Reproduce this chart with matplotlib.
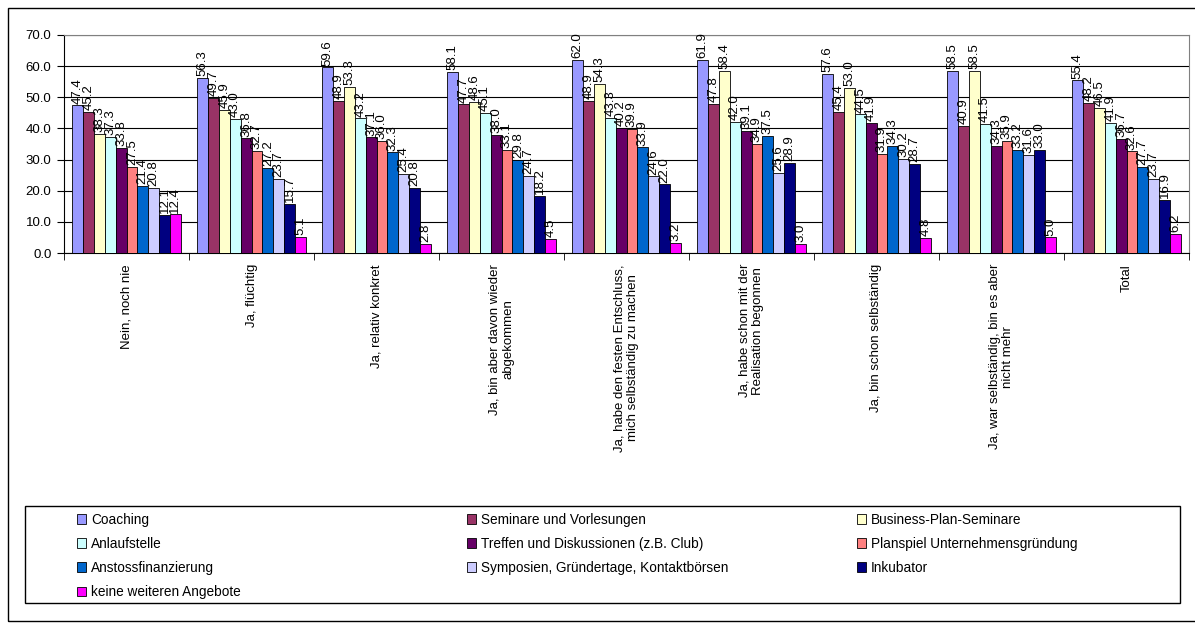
import numpy as np
import matplotlib
matplotlib.use("Agg")
import matplotlib.pyplot as plt
from matplotlib.patches import Rectangle, Patch

plt.rcParams["font.family"] = ["Liberation Sans", "DejaVu Sans"]

categories = [
    "Nein, noch nie",
    "Ja, flüchtig",
    "Ja, relativ konkret",
    "Ja, bin aber davon wieder\nabgekommen",
    "Ja, habe den festen Entschluss,\nmich selbständig zu machen",
    "Ja, habe schon mit der\nRealisation begonnen",
    "Ja, bin schon selbständig",
    "Ja, war selbständig, bin es aber\nnicht mehr",
    "Total",
]

series_names = [
    "Coaching",
    "Seminare und Vorlesungen",
    "Business-Plan-Seminare",
    "Anlaufstelle",
    "Treffen und Diskussionen (z.B. Club)",
    "Planspiel Unternehmensgründung",
    "Anstossfinanzierung",
    "Symposien, Gründertage, Kontaktbörsen",
    "Inkubator",
    "keine weiteren Angebote",
]

coaching = [47.4, 56.3, 59.6, 58.1, 62.0, 61.9, 57.6, 58.5, 55.4]
seminare = [45.2, 49.7, 48.9, 47.7, 48.9, 47.8, 45.4, 40.9, 48.2]
business_plan = [38.3, 45.9, 53.3, 48.6, 54.3, 58.4, 53.0, 58.5, 46.5]
anlaufstelle = [37.3, 43.0, 43.2, 45.1, 43.3, 42.0, 44.5, 41.5, 41.9]
treffen = [33.8, 36.8, 37.1, 38.0, 40.2, 39.1, 41.9, 34.3, 36.7]
planspiel = [27.5, 32.7, 36.0, 33.1, 39.9, 34.9, 31.9, 35.9, 32.6]
anstoss = [21.4, 27.2, 32.3, 29.8, 33.9, 37.5, 34.3, 33.2, 27.7]
symposien = [20.8, 23.7, 25.4, 24.7, 24.6, 25.6, 30.2, 31.6, 23.7]
inkubator = [12.1, 15.7, 20.8, 18.2, 22.0, 28.9, 28.7, 33.0, 16.9]
keine = [12.4, 5.1, 2.8, 4.5, 3.2, 3.0, 4.8, 5.0, 6.2]

series_values = [coaching, seminare, business_plan, anlaufstelle, treffen,
                 planspiel, anstoss, symposien, inkubator, keine]

colors = ["#9999FF", "#993366", "#FFFFCC", "#CCFFFF", "#660066",
          "#FF8080", "#0066CC", "#CCCCFF", "#000080", "#FF00FF"]

W, H = 1195, 626
fig = plt.figure(figsize=(W / 100, H / 100), dpi=100)

# outer chart border
fig.patches.append(Rectangle((8 / W, 1 - 621 / H), 1200 / W, 613 / H,
                             transform=fig.transFigure, fill=False,
                             edgecolor="black", linewidth=1.0))

ax = fig.add_axes([64 / W, 1 - 253 / H, 1125 / W, 218 / H])

n = len(series_names)
x = np.arange(len(categories))
bw = 0.087
for i, (name, vals) in enumerate(zip(series_names, series_values)):
    pos = x + (i - (n - 1) / 2) * bw
    ax.bar(pos, vals, bw, color=colors[i], edgecolor="black",
           linewidth=0.6, label=name, zorder=3)
    for xp, v in zip(pos, vals):
        ax.text(xp, v + 0.6, f"{v:.1f}", rotation=90, ha="center",
                va="bottom", fontsize=9.5, zorder=4)

ax.set_xlim(-0.5, len(categories) - 0.5)
ax.set_ylim(0, 70)
ax.set_yticks(np.arange(0, 71, 10))
ax.set_yticklabels([f"{v:.1f}" for v in np.arange(0, 71, 10)], fontsize=9.5)
ax.yaxis.grid(True, color="black", linewidth=0.8, zorder=0)

ax.set_xticks(x)
ax.set_xticklabels(categories, rotation=90, fontsize=9.5,
                   va="top", ha="center", multialignment="center")
ax.tick_params(axis="x", which="major", length=0, pad=8)
ax.set_xticks(np.arange(-0.5, len(categories), 1), minor=True)
ax.tick_params(axis="x", which="minor", length=5, direction="out")
ax.tick_params(axis="y", length=5, direction="out", pad=4)

ax.spines["top"].set_color("#808080")
ax.spines["right"].set_color("#808080")

# legend frame
fig.patches.append(Rectangle((25 / W, 1 - 603 / H), 1155 / W, 97 / H,
                             transform=fig.transFigure, fill=False,
                             edgecolor="black", linewidth=1.0))

handles = [Patch(facecolor=c, edgecolor="black", linewidth=0.6) for c in colors]
col_x = [67, 457, 847]
for c in range(3):
    idx = list(range(c, n, 3))
    fig.legend([handles[k] for k in idx], [series_names[k] for k in idx],
               loc="upper left",
               bbox_to_anchor=(col_x[c] / W, 1 - 503 / H),
               frameon=False, fontsize=9.8, handlelength=0.7,
               handleheight=0.7, handletextpad=0.35,
               labelspacing=0.75, borderpad=0.2)

fig.savefig("out.png", dpi=100)
